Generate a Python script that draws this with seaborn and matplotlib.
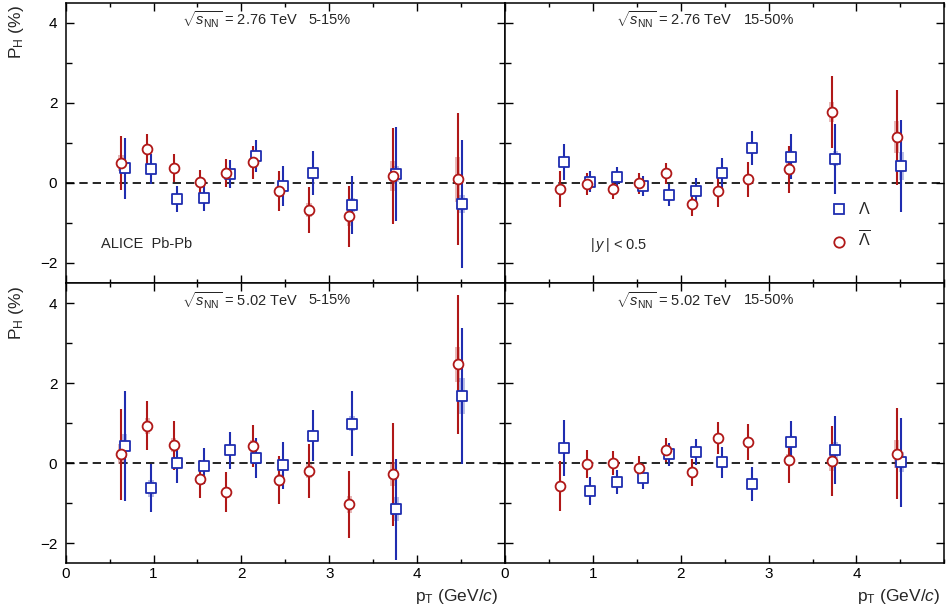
import numpy as np
import pandas as pd
import seaborn as sns
import matplotlib
matplotlib.use("Agg")
import matplotlib.pyplot as plt
from matplotlib.lines import Line2D
from matplotlib.ticker import MultipleLocator

# bin positions (slightly shifted for the two species)
pt_alam = [0.63, 0.93, 1.23, 1.53, 1.83, 2.13, 2.43, 2.77, 3.23, 3.72, 4.46]
pt_lam = [0.67, 0.97, 1.27, 1.57, 1.87, 2.17, 2.47, 2.81, 3.26, 3.76, 4.51]

# 2.76 TeV, 5-15%
alam_276_515 = [0.49, 0.85, 0.36, 0.02, 0.25, 0.51, -0.20, -0.68, -0.83, 0.18, 0.09]
alam_276_515_stat = [0.67, 0.37, 0.35, 0.30, 0.35, 0.42, 0.50, 0.57, 0.76, 1.20, 1.65]
alam_276_515_sys = [0.20, 0.12, 0.10, 0.08, 0.12, 0.15, 0.15, 0.18, 0.25, 0.37, 0.56]
lam_276_515 = [0.37, 0.35, -0.40, -0.38, 0.22, 0.68, -0.08, 0.24, -0.55, 0.22, -0.52]
lam_276_515_stat = [0.76, 0.37, 0.33, 0.33, 0.35, 0.40, 0.50, 0.55, 0.73, 1.17, 1.60]
lam_276_515_sys = [0.15, 0.10, 0.08, 0.08, 0.10, 0.12, 0.12, 0.12, 0.18, 0.20, 0.23]

# 2.76 TeV, 15-50%
alam_276_1550 = [-0.15, -0.03, -0.15, -0.01, 0.24, -0.52, -0.20, 0.09, 0.34, 1.78, 1.14]
alam_276_1550_stat = [0.44, 0.27, 0.24, 0.26, 0.26, 0.30, 0.39, 0.43, 0.58, 0.90, 1.19]
alam_276_1550_sys = [0.08, 0.06, 0.06, 0.06, 0.07, 0.08, 0.10, 0.10, 0.15, 0.25, 0.40]
lam_276_1550 = [0.52, 0.03, 0.14, -0.07, -0.30, -0.20, 0.24, 0.87, 0.65, 0.60, 0.43]
lam_276_1550_stat = [0.46, 0.26, 0.25, 0.25, 0.27, 0.32, 0.39, 0.43, 0.56, 0.87, 1.15]
lam_276_1550_sys = [0.08, 0.06, 0.06, 0.06, 0.07, 0.08, 0.10, 0.12, 0.15, 0.19, 0.35]

# 5.02 TeV, 5-15%
alam_502_515 = [0.22, 0.94, 0.45, -0.40, -0.72, 0.43, -0.42, -0.20, -1.03, -0.28, 2.47]
alam_502_515_stat = [1.14, 0.62, 0.61, 0.48, 0.49, 0.53, 0.61, 0.67, 0.83, 1.29, 1.74]
alam_502_515_sys = [0.25, 0.20, 0.18, 0.12, 0.12, 0.15, 0.15, 0.18, 0.22, 0.30, 0.44]
lam_502_515 = [0.43, -0.63, 0.00, -0.08, 0.32, 0.12, -0.05, 0.69, 0.99, -1.15, 1.68]
lam_502_515_stat = [1.37, 0.60, 0.50, 0.45, 0.47, 0.50, 0.59, 0.64, 0.81, 1.26, 1.69]
lam_502_515_sys = [0.30, 0.22, 0.15, 0.12, 0.12, 0.12, 0.15, 0.15, 0.18, 0.30, 0.46]

# 5.02 TeV, 15-50%
alam_502_1550 = [-0.57, -0.03, 0.01, -0.11, 0.34, -0.23, 0.63, 0.53, 0.08, 0.06, 0.24]
alam_502_1550_stat = [0.62, 0.35, 0.30, 0.28, 0.30, 0.33, 0.40, 0.44, 0.58, 0.88, 1.14]
alam_502_1550_sys = [0.10, 0.07, 0.06, 0.06, 0.07, 0.08, 0.10, 0.10, 0.15, 0.25, 0.35]
lam_502_1550 = [0.38, -0.70, -0.47, -0.36, 0.22, 0.28, 0.02, -0.52, 0.52, 0.33, 0.02]
lam_502_1550_stat = [0.70, 0.35, 0.29, 0.29, 0.29, 0.33, 0.38, 0.42, 0.54, 0.85, 1.12]
lam_502_1550_sys = [0.10, 0.07, 0.06, 0.06, 0.07, 0.08, 0.10, 0.10, 0.15, 0.20, 0.25]

energies = ["2.76", "2.76", "5.02", "5.02"]
centralities = ["5-15%", "15-50%", "5-15%", "15-50%"]

BLUE = "#1f2db0"
RED = "#b01818"

sns.set_theme(style="ticks")
plt.rcParams["font.family"] = ["Liberation Sans", "DejaVu Sans"]
plt.rcParams["mathtext.fontset"] = "custom"
plt.rcParams["mathtext.rm"] = "Liberation Sans"
plt.rcParams["mathtext.it"] = "Liberation Sans:italic"
plt.rcParams["mathtext.bf"] = "Liberation Sans:bold"

fig = plt.figure(figsize=(9.5, 6.14), dpi=100)

W, H = 950, 614
x0, xm, x1 = 65.7, 505.0, 944.3
y0, ym, y1 = 2.7, 283.0, 563.3
boxes = [
    (x0, y0, xm, ym), (xm, y0, x1, ym),
    (x0, ym, xm, y1), (xm, ym, x1, y1),
]

panels = [
    (alam_276_515, alam_276_515_stat, alam_276_515_sys, lam_276_515, lam_276_515_stat, lam_276_515_sys),
    (alam_276_1550, alam_276_1550_stat, alam_276_1550_sys, lam_276_1550, lam_276_1550_stat, lam_276_1550_sys),
    (alam_502_515, alam_502_515_stat, alam_502_515_sys, lam_502_515, lam_502_515_stat, lam_502_515_sys),
    (alam_502_1550, alam_502_1550_stat, alam_502_1550_sys, lam_502_1550, lam_502_1550_stat, lam_502_1550_sys),
]

axes = []
for i, (bx0, by0, bx1, by1) in enumerate(boxes):
    ax = fig.add_axes([bx0 / W, 1 - by1 / H, (bx1 - bx0) / W, (by1 - by0) / H])
    axes.append(ax)
    alam, alam_st, alam_sy, lam, lam_st, lam_sy = panels[i]

    ax.axhline(0, color="black", lw=1.2, ls=(0, (5, 3)), zorder=1)

    # systematic boxes
    ax.bar(pt_alam, 2 * np.array(alam_sy), bottom=np.array(alam) - np.array(alam_sy),
           width=0.06, color=RED, alpha=0.3, linewidth=0, zorder=2)
    ax.bar(pt_lam, 2 * np.array(lam_sy), bottom=np.array(lam) - np.array(lam_sy),
           width=0.06, color=BLUE, alpha=0.3, linewidth=0, zorder=2)

    # statistical errors
    ax.errorbar(pt_alam, alam, yerr=alam_st, fmt="none", ecolor=RED, elinewidth=1.5,
                capsize=0, zorder=3)
    ax.errorbar(pt_lam, lam, yerr=lam_st, fmt="none", ecolor=BLUE, elinewidth=1.5,
                capsize=0, zorder=3)

    df_a = pd.DataFrame({"pt": pt_alam, "ph": alam})
    df_l = pd.DataFrame({"pt": pt_lam, "ph": lam})
    sns.scatterplot(data=df_l, x="pt", y="ph", marker="s", s=50, ax=ax,
                    facecolor="white", edgecolor=BLUE, linewidth=1.3, zorder=4)
    ax.collections[-1].set_facecolor("white")
    ax.collections[-1].set_edgecolor(BLUE)
    sns.scatterplot(data=df_a, x="pt", y="ph", marker="o", s=50, ax=ax,
                    facecolor="white", edgecolor=RED, linewidth=1.3, zorder=4)
    ax.collections[-1].set_facecolor("white")
    ax.collections[-1].set_edgecolor(RED)

    ax.set_xlim(0, 5.0)
    ax.set_ylim(-2.5, 4.5)
    ax.set_xlabel("")
    ax.set_ylabel("")
    ax.set_xticks([0, 1, 2, 3, 4])
    ax.xaxis.set_minor_locator(MultipleLocator(0.5))
    ax.yaxis.set_major_locator(MultipleLocator(2))
    ax.yaxis.set_minor_locator(MultipleLocator(1))
    ax.tick_params(which="both", direction="in", top=True, right=True,
                   colors="black", labelsize=11, width=1.0)
    ax.tick_params(axis="x", which="major", length=5.5, pad=3)
    ax.tick_params(axis="x", which="minor", length=3)
    ax.tick_params(axis="y", which="major", length=5.5, pad=6)
    ax.tick_params(axis="y", which="minor", length=4.5)
    for sp in ax.spines.values():
        sp.set_linewidth(1.1)
        sp.set_color("black")
    if i < 2:
        ax.tick_params(labelbottom=False)
    if i % 2 == 1:
        ax.tick_params(labelleft=False)

    tx = 1.32 if i % 2 == 0 else 1.26
    cx = 2.76 if i % 2 == 0 else 2.72
    ax.text(tx, 4.07, r"$\sqrt{s_{\rm NN}}$ = " + energies[i] + " TeV", fontsize=10.5,
            va="center", ha="left")
    ax.text(cx, 4.07, centralities[i], fontsize=10.5, va="center", ha="left")

axes[0].text(0.40, -1.53, "ALICE  Pb-Pb", fontsize=10.5, va="center", ha="left")
axes[1].text(0.97, -1.55, r"$|\,y\,|$ < 0.5", fontsize=10.5, va="center", ha="left")

handles = [
    Line2D([], [], ls="none", marker="s", ms=7.5, mfc="white", mec=BLUE, mew=1.3),
    Line2D([], [], ls="none", marker="o", ms=7.5, mfc="white", mec=RED, mew=1.3),
]
axes[1].legend(handles, [r"$\Lambda$", r"$\overline{\Lambda}$"], loc="upper left",
               bbox_to_anchor=(3.64, -0.3), bbox_transform=axes[1].transData,
               frameon=False, fontsize=11.5, handlelength=1.0, handletextpad=0.7,
               labelspacing=0.8, borderaxespad=0)

# axis titles
for by0 in (y0, ym):
    fig.text(16 / W, 1 - (by0 + 3) / H, r"P$_{\rm H}$ (%)", rotation=90, fontsize=12.5,
             ha="center", va="top")
for bx1 in (498, 940):
    fig.text(bx1 / W, 1 - 596 / H, r"p$_{\rm T}$ (GeV/$c$)", fontsize=12.5,
             ha="right", va="center")

fig.savefig("out.png", dpi=100, facecolor="white")
